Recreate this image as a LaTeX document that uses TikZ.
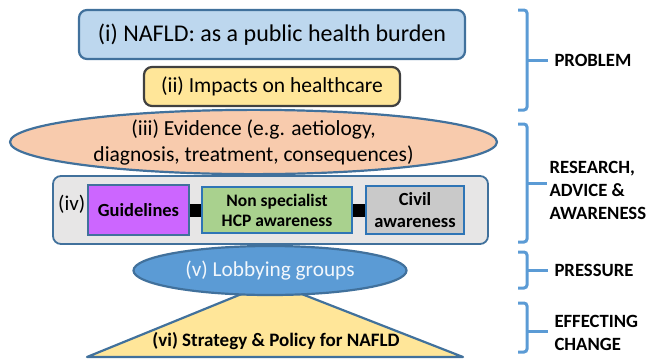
\documentclass[tikz,border=0pt]{standalone}
\usepackage{fontspec}
\setmainfont{Carlito}
\usetikzlibrary{shapes.geometric}

\definecolor{edgeblue}{HTML}{41719C}
\definecolor{brightblue}{HTML}{2E75B6}
\definecolor{paleblue}{HTML}{BDD7EE}
\definecolor{paleyellow}{HTML}{FFE699}
\definecolor{peach}{HTML}{F8CBAD}
\definecolor{panelgrey}{HTML}{E7E6E6}
\definecolor{violet}{HTML}{CC66FF}
\definecolor{leafgreen}{HTML}{A9D18E}
\definecolor{civilgrey}{HTML}{C9C9C9}
\definecolor{midblue}{HTML}{5B9BD5}

\tikzset{
  stage/.style={draw=edgeblue, line width=2.2pt, rounded corners=8pt, align=center},
  inner/.style={draw=brightblue, line width=1.5pt, align=center, font=\fontsize{18.5}{22}\selectfont\bfseries, inner sep=0pt},
  brk/.style={draw=midblue, line width=3pt},
  brklabel/.style={anchor=west, align=left, font=\fontsize{18.7}{23}\selectfont\bfseries}
}

\begin{document}
\begin{tikzpicture}[x=1pt,y=-1pt]
  \useasboundingbox (0,0) rectangle (646,360);

  % problem
  \node[stage, fill=paleblue, minimum width=386, minimum height=49, font=\fontsize{24}{28}\selectfont] (burden) at (272,34.5) {(i) NAFLD: as a public health burden};
  \node[stage, draw=black!75, fill=paleyellow, minimum width=256, minimum height=39, font=\fontsize{21.5}{25}\selectfont] (impact) at (272,86.5) {(ii) Impacts on healthcare};

  % research, advice and awareness
  \node[stage, fill=panelgrey, line width=1.8pt, minimum width=435, minimum height=68] (panel) at (270.5,210) {};
  \node[anchor=west, inner sep=0pt, font=\fontsize{21}{24}\selectfont] (iv) at (58,204) {(iv)};
  \node[inner, draw=edgeblue, fill=violet, minimum width=101, minimum height=50] (guide) at (138.5,210) {Guidelines};
  \node[inner, fill=leafgreen, minimum width=150, minimum height=46, font=\fontsize{17.5}{20}\selectfont\bfseries] (hcp) at (277,210) {Non specialist\\HCP awareness};
  \node[inner, fill=civilgrey, minimum width=98, minimum height=48] (civil) at (415,210) {Civil\\awareness};
  \draw[line width=13pt] (guide) -- (hcp);
  \draw[line width=13pt] (hcp) -- (civil);

  \node[ellipse, draw=edgeblue, line width=2.2pt, fill=peach, minimum width=487, minimum height=60, inner sep=0pt, align=center, font=\fontsize{21.5}{26}\selectfont] (evidence) at (253.5,142) {(iii) Evidence (e.g. aetiology,\\diagnosis, treatment, consequences)};

  % effecting change
  \draw[draw=edgeblue, line width=2.2pt, fill=paleyellow, line join=round] (87,357) -- (271,282) -- (463,357) -- cycle;
  \node[font=\fontsize{19}{22}\selectfont\bfseries] (policy) at (276,341) {(vi) Strategy \& Policy for NAFLD};

  % pressure
  \node[ellipse, draw=edgeblue, line width=2.2pt, fill=midblue, text=white!92!midblue, minimum width=273, minimum height=49, inner sep=0pt, font=\fontsize{21.3}{24}\selectfont] (lobby) at (270,270.5) {(v) Lobbying groups};

  % brackets
  \draw[brk, rounded corners=3pt] (518,10) -- (527,10) -- (527,110) -- (518,110);
  \draw[brk] (527,60) -- (548,60);
  \node[brklabel] (problem) at (551,60) {PROBLEM};

  \draw[brk, rounded corners=3pt] (518,124) -- (527,124) -- (527,242) -- (518,242);
  \draw[brk] (527,183) -- (547,183);
  \node[brklabel] (research) at (546,190) {RESEARCH,\\ADVICE \&\\AWARENESS};

  \draw[brk, rounded corners=3pt] (518,252) -- (527,252) -- (527,288) -- (518,288);
  \draw[brk] (527,270) -- (548,270);
  \node[brklabel] (pressure) at (551,270) {PRESSURE};

  \draw[brk, rounded corners=3pt] (518,303) -- (527,303) -- (527,352) -- (518,352);
  \draw[brk] (527,331) -- (548,331);
  \node[brklabel] (change) at (551,333) {EFFECTING\\CHANGE};
\end{tikzpicture}
\end{document}
